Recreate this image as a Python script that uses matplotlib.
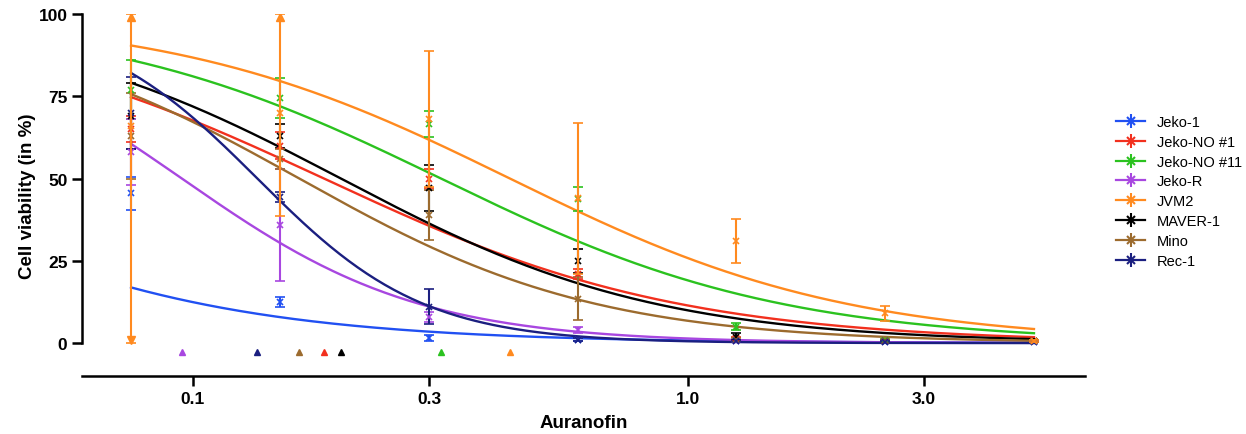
import matplotlib
matplotlib.use('Agg')
import matplotlib.pyplot as plt
from matplotlib.lines import Line2D
from matplotlib.legend_handler import HandlerTuple
import numpy as np

plt.rcParams['font.family'] = ['Liberation Sans', 'DejaVu Sans']

# Auranofin doses (uM)
doses = [0.075, 0.15, 0.3, 0.6, 1.25, 2.5, 5.0]

cell_lines = ['Jeko-1', 'Jeko-NO #1', 'Jeko-NO #11', 'Jeko-R', 'JVM2', 'MAVER-1', 'Mino', 'Rec-1']
colors = ['#2150f2', '#f2301e', '#2bc21f', '#a847e0', '#ff8a1f', '#000000', '#9c6b2e', '#1b1f80']

# mean viability (%) and SD per cell line
jeko1_mean = [45.5, 12.5, 1.5, 1.0, 0.5, 0.4, 0.4]
jeko1_sd = [5.0, 1.5, 1.0, 0.5, 0.3, 0.2, 0.2]
jekono1_mean = [65.0, 60.0, 50.0, 21.0, 1.5, 0.5, 0.5]
jekono1_sd = [4.0, 4.0, 3.0, 1.5, 0.5, 0.3, 0.3]
jekono11_mean = [77.0, 74.5, 66.5, 43.7, 5.0, 0.8, 0.5]
jekono11_sd = [9.0, 6.0, 4.0, 3.7, 1.0, 0.3, 0.3]
jekor_mean = [58.0, 36.0, 8.0, 4.0, 0.6, 0.5, 0.5]
jekor_sd = [10.0, 17.0, 1.5, 0.8, 0.3, 0.3, 0.3]
jvm2_mean = [66.0, 70.0, 68.0, 44.0, 31.0, 9.0, 0.5]
jvm2_sd = [70.0, 31.5, 20.7, 23.0, 6.7, 2.2, 0.3]
maver1_mean = [69.0, 63.0, 47.0, 25.0, 2.0, 0.5, 0.5]
maver1_sd = [10.0, 3.7, 7.0, 3.6, 1.0, 0.3, 0.3]
mino_mean = [63.0, 56.0, 39.0, 13.5, 1.0, 0.5, 0.5]
mino_sd = [13.0, 3.0, 7.6, 6.5, 0.5, 0.3, 0.3]
rec1_mean = [70.0, 44.5, 11.0, 1.0, 0.5, 0.4, 0.4]
rec1_sd = [11.0, 1.5, 5.3, 0.5, 0.3, 0.2, 0.2]

means = [jeko1_mean, jekono1_mean, jekono11_mean, jekor_mean, jvm2_mean, maver1_mean, mino_mean, rec1_mean]
sds = [jeko1_sd, jekono1_sd, jekono11_sd, jekor_sd, jvm2_sd, maver1_sd, mino_sd, rec1_sd]

# dose-response fit (top 100, bottom 0): IC50 and hill slope
ic50 = [0.021, 0.184, 0.317, 0.095, 0.437, 0.199, 0.164, 0.135]
hill = [1.25, 1.21, 1.26, 1.81, 1.275, 1.365, 1.45, 2.59]

fig = plt.figure(figsize=(12.46, 4.35), dpi=100)
ax = fig.add_axes([0.0658, 0.1333, 0.805, 0.8322])
xlo, xhi = 0.0597, 6.34

x = np.array(doses)
xs = np.logspace(np.log10(doses[0]), np.log10(doses[-1]), 300)
handles = []
for i, (name, c) in enumerate(zip(cell_lines, colors)):
    m = np.array(means[i])
    s = np.array(sds[i])
    z = 5 if name == 'JVM2' else 3
    ax.plot(xs, 100 / (1 + (xs / ic50[i]) ** hill[i]), color=c, lw=1.7, zorder=2)
    hi = np.minimum(m + s, 100)
    lo = np.maximum(m - s, 0)
    ax.errorbar(x, m, yerr=[m - lo, hi - m], fmt='x', color=c, ms=5, mew=1.2,
                elinewidth=1.5, capsize=3.5, capthick=1.5, zorder=z)
    over = m + s > 100
    under = m - s < 0
    ax.plot(x[over], np.full(over.sum(), 99.0), '^', color=c, ms=6, zorder=z)
    ax.plot(x[under], np.full(under.sum(), 1.0), 'v', color=c, ms=6, zorder=z)
    if xlo < ic50[i] < xhi:
        ax.plot(ic50[i], -2.7, '^', color=c, ms=5, clip_on=False)
    handles.append((Line2D([], [], color=c, lw=1.6, marker='x', ms=6, mew=1.5),
                    Line2D([], [], color=c, lw=0, marker='|', ms=10, mew=1.5)))

ax.set_xscale('log')
ax.set_xlim(xlo, xhi)
ax.set_ylim(-10, 100)
ax.set_xticks([0.1, 0.3, 1.0, 3.0])
ax.set_xticklabels(['0.1', '0.3', '1.0', '3.0'])
ax.minorticks_off()
ax.set_yticks([0, 25, 50, 75, 100])

for side in ['top', 'right']:
    ax.spines[side].set_visible(False)
ax.spines['left'].set_bounds(0, 100)
ax.spines['left'].set_linewidth(1.8)
ax.spines['bottom'].set_linewidth(1.8)
ax.tick_params(width=1.8, length=7, labelsize=12.5)
for lab in ax.get_xticklabels() + ax.get_yticklabels():
    lab.set_fontweight('bold')

ax.set_ylabel('Cell viability (in %)', fontsize=13.5, fontweight='bold', labelpad=2)
ax.set_xlabel('Auranofin', fontsize=13.5, fontweight='bold', labelpad=6)

ax.legend(handles, cell_lines, handler_map={tuple: HandlerTuple(ndivide=1)},
          loc='center left', bbox_to_anchor=(1.025, 0.51), frameon=False,
          fontsize=10.5, handlelength=2.0, handletextpad=0.8, labelspacing=0.4,
          borderaxespad=0)

fig.savefig('out.png', dpi=100)
